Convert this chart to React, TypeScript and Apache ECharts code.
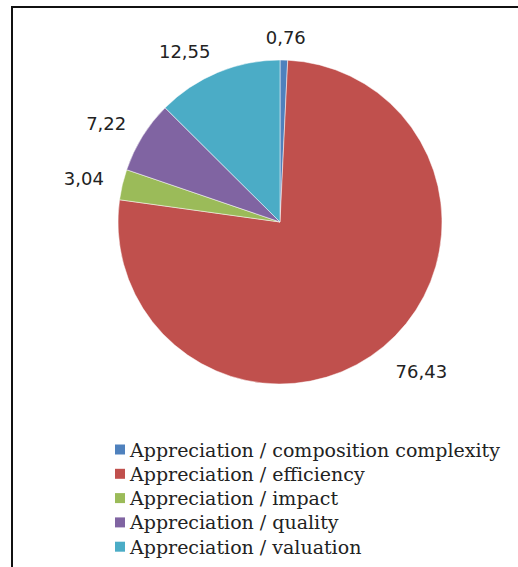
import React, { useEffect, useRef } from "react";
import * as echarts from "echarts";

const categories = [
  "Appreciation / composition complexity",
  "Appreciation / efficiency",
  "Appreciation / impact",
  "Appreciation / quality",
  "Appreciation / valuation",
];
const values = [0.76, 76.43, 3.04, 7.22, 12.55];
const colors = ["#4F81BD", "#C0504D", "#9BBB59", "#8064A2", "#4BACC6"];

const CX = 280;
const CY = 222;
const R = 162;
const LABEL_DIST = 181;
const GLYPH_HALF_H = 7;

export default function App() {
  const ref = useRef<HTMLDivElement>(null);
  useEffect(() => {
    if (!ref.current) return;
    const chart = echarts.init(ref.current, null, { renderer: "svg" });
    const total = values.reduce((a, b) => a + b, 0);
    const midAngles: number[] = [];
    let acc = 0;
    values.forEach((v) => {
      midAngles.push(((acc + v / 2) / total) * Math.PI * 2);
      acc += v;
    });
    const clamp = (v: number) => Math.max(-1, Math.min(1, v));
    chart.setOption({
      animation: false,
      backgroundColor: "#ffffff",
      color: colors,
      graphic: [
        { type: "rect", shape: { x: 11, y: 6, width: 507, height: 2 }, style: { fill: "#111" } },
        { type: "rect", shape: { x: 11, y: 6, width: 2, height: 561 }, style: { fill: "#111" } },
      ],
      legend: {
        orient: "vertical",
        left: 110,
        top: 435,
        itemWidth: 10,
        itemHeight: 10,
        itemGap: 5.3,
        icon: "rect",
        itemStyle: { borderWidth: 0 },
        data: categories,
        textStyle: { fontFamily: "DejaVu Serif", fontSize: 19, color: "#222" },
      },
      series: [
        {
          type: "pie",
          center: [CX, CY],
          radius: R,
          startAngle: 90,
          clockwise: true,
          data: categories.map((c, i) => ({ name: c, value: values[i] })),
          label: {
            show: true,
            position: "outside",
            formatter: (p: any) => String(p.value).replace(".", ","),
            fontFamily: "DejaVu Sans",
            fontSize: 18,
            color: "#222",
          },
          labelLine: { show: false, length: 14, length2: 0 },
          labelLayout: (p: any) => {
            const a = midAngles[p.dataIndex];
            const dx = Math.sin(a);
            const dy = -Math.cos(a);
            const w = p.labelRect.width;
            const px = CX + dx * LABEL_DIST;
            const py = CY + dy * LABEL_DIST;
            return {
              x: px + clamp(dx * 3) * (w / 2),
              y: py + clamp(dy * 3) * GLYPH_HALF_H + 3.5,
              align: "center",
              verticalAlign: "middle",
            };
          },
          itemStyle: { borderColor: "#fff", borderWidth: 0.5 },
          emphasis: { disabled: true },
        },
      ],
    });
    return () => chart.dispose();
  }, []);
  return (
    <div
      ref={ref}
      style={{ position: "fixed", left: 0, top: 0, width: 518, height: 567 }}
    />
  );
}
